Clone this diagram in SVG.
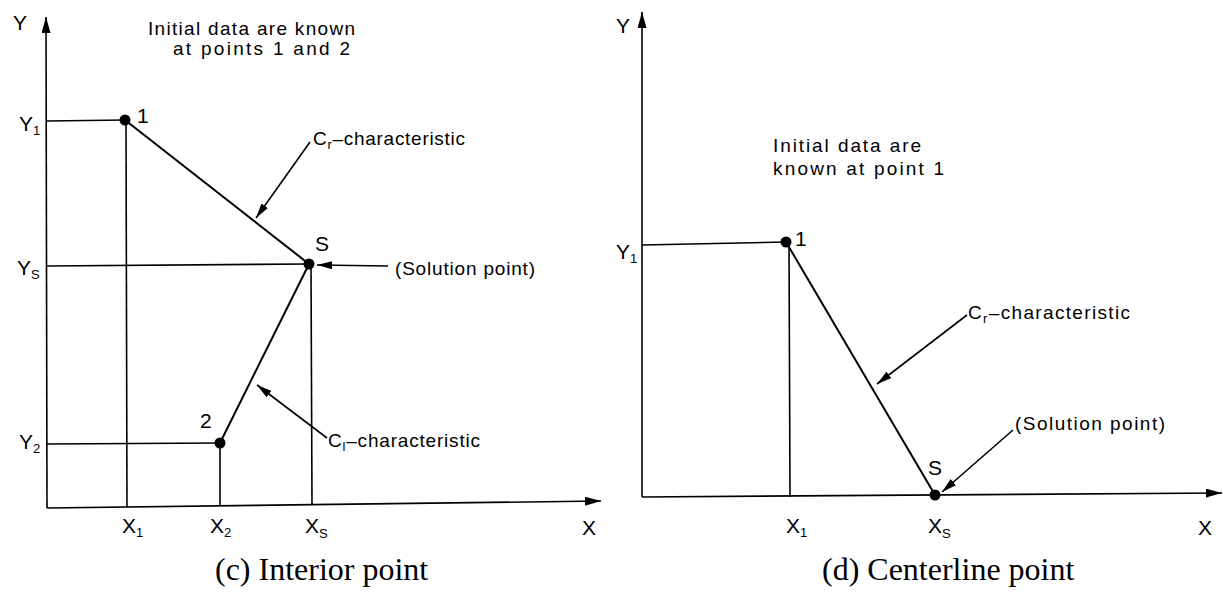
<svg xmlns="http://www.w3.org/2000/svg" width="1223" height="594" viewBox="0 0 1223 594">
<defs>
<style>
.ln{stroke:#000;stroke-width:1.6;fill:none}
.ch{stroke:#000;stroke-width:2;fill:none}
.ax{stroke:#000;stroke-width:1.6;fill:none}
.t{font-family:"Liberation Sans",Arial,sans-serif;font-size:19px;fill:#000}
.lb{font-family:"Liberation Sans",Arial,sans-serif;font-size:21px;fill:#000}
.sub{font-size:13px}
.cap{font-family:"Liberation Serif","Times New Roman",serif;font-size:32px;fill:#000}
.dot{fill:#000}
</style>
<marker id="ah" markerUnits="userSpaceOnUse" markerWidth="15" markerHeight="8" refX="15" refY="4" orient="auto">
<path d="M0,0 L15,4 L0,8 z" fill="#000"/>
</marker>
<marker id="axh" markerUnits="userSpaceOnUse" markerWidth="16" markerHeight="9" refX="16" refY="4.5" orient="auto">
<path d="M0,0 L16,4.5 L0,9 z" fill="#000"/>
</marker>
</defs>
<rect width="1223" height="594" fill="#fff"/>

<g id="panel-c">
<g id="c-axes">
<line class="ax" x1="47" y1="508" x2="46" y2="17" marker-end="url(#axh)"/>
<line class="ax" x1="47" y1="508" x2="601" y2="501" marker-end="url(#axh)"/>
<text class="lb" x="13" y="30">Y</text>
<text class="lb" x="582" y="535">X</text>
</g>
<g id="c-guides">
<line class="ln" x1="47" y1="121" x2="125" y2="120"/>
<line class="ln" x1="126" y1="120" x2="127" y2="507"/>
<line class="ln" x1="47" y1="266" x2="309" y2="264"/>
<line class="ln" x1="311" y1="264" x2="312" y2="505"/>
<line class="ln" x1="47" y1="444" x2="220" y2="443"/>
<line class="ln" x1="220" y1="443" x2="220" y2="506"/>
</g>
<g id="c-characteristics">
<line class="ch" x1="125" y1="120" x2="309" y2="264"/>
<line class="ch" x1="220" y1="443" x2="309" y2="264"/>
</g>
<g id="c-point1"><circle class="dot" cx="125" cy="120" r="5.5"/><text class="lb" x="137" y="123">1</text></g>
<g id="c-pointS"><circle class="dot" cx="309" cy="264" r="5.5"/><text class="lb" x="315" y="251">S</text></g>
<g id="c-point2"><circle class="dot" cx="220" cy="443" r="5.5"/><text class="lb" x="200" y="428">2</text></g>
<g id="c-labels">
<text class="lb" x="19" y="131">Y<tspan class="sub" dy="4">1</tspan></text>
<text class="lb" x="17" y="275">Y<tspan class="sub" dy="4">S</tspan></text>
<text class="lb" x="19" y="449">Y<tspan class="sub" dy="4">2</tspan></text>
<text class="lb" x="122" y="533">X<tspan class="sub" dy="4">1</tspan></text>
<text class="lb" x="210" y="533">X<tspan class="sub" dy="4">2</tspan></text>
<text class="lb" x="305" y="533">X<tspan class="sub" dy="5">S</tspan></text>
</g>
<g id="c-notes">
<text class="t" x="148" y="35" textLength="207" lengthAdjust="spacing">Initial data are known</text>
<text class="t" x="173" y="55" textLength="177" lengthAdjust="spacing">at points 1 and 2</text>
<text class="t" x="313" y="145" textLength="152" lengthAdjust="spacing">C<tspan class="sub" dy="4">r</tspan><tspan dy="-4">–characteristic</tspan></text>
<text class="t" x="395" y="275" textLength="140" lengthAdjust="spacing">(Solution point)</text>
<text class="t" x="328" y="447" textLength="152" lengthAdjust="spacing">C<tspan class="sub" dy="4">l</tspan><tspan dy="-4">–characteristic</tspan></text>
</g>
<text class="cap" x="215" y="580">(c) Interior point</text>
</g>

<g id="panel-d">
<g id="d-axes">
<line class="ax" x1="642" y1="497" x2="642" y2="12" marker-end="url(#axh)"/>
<line class="ax" x1="642" y1="497" x2="1222" y2="493" marker-end="url(#axh)"/>
<text class="lb" x="616" y="33">Y</text>
<text class="lb" x="1198" y="535">X</text>
</g>
<g id="d-guides">
<line class="ln" x1="642" y1="245" x2="786" y2="242"/>
<line class="ln" x1="789" y1="242" x2="790" y2="497"/>
</g>
<g id="d-characteristics">
<line class="ch" x1="786" y1="242" x2="935" y2="495"/>
</g>
<g id="d-point1"><circle class="dot" cx="786" cy="242" r="5.5"/><text class="lb" x="795" y="246">1</text></g>
<g id="d-pointS"><circle class="dot" cx="935" cy="495" r="5.5"/><text class="lb" x="928" y="475">S</text></g>
<g id="d-labels">
<text class="lb" x="616" y="259">Y<tspan class="sub" dy="4">1</tspan></text>
<text class="lb" x="786" y="533">X<tspan class="sub" dy="4">1</tspan></text>
<text class="lb" x="928" y="533">X<tspan class="sub" dy="5">S</tspan></text>
</g>
<g id="d-notes">
<text class="t" x="773" y="152" textLength="148" lengthAdjust="spacing">Initial data are</text>
<text class="t" x="773" y="175" textLength="171" lengthAdjust="spacing">known at point 1</text>
<text class="t" x="968" y="319" textLength="162" lengthAdjust="spacing">C<tspan class="sub" dy="4">r</tspan><tspan dy="-4">–characteristic</tspan></text>
<text class="t" x="1015" y="430" textLength="150" lengthAdjust="spacing">(Solution point)</text>
</g>
<text class="cap" x="822" y="580">(d) Centerline point</text>
</g>

<g id="connectors">
<line class="ln" x1="310" y1="142" x2="256" y2="218" marker-end="url(#ah)"/>
<line class="ln" x1="327" y1="438" x2="257" y2="385" marker-end="url(#ah)"/>
<line class="ln" x1="388" y1="266" x2="317" y2="265" marker-end="url(#ah)"/>
<line class="ln" x1="967" y1="315" x2="877" y2="384" marker-end="url(#ah)"/>
<line class="ln" x1="1013" y1="430" x2="942" y2="492" marker-end="url(#ah)"/>
</g>
</svg>
